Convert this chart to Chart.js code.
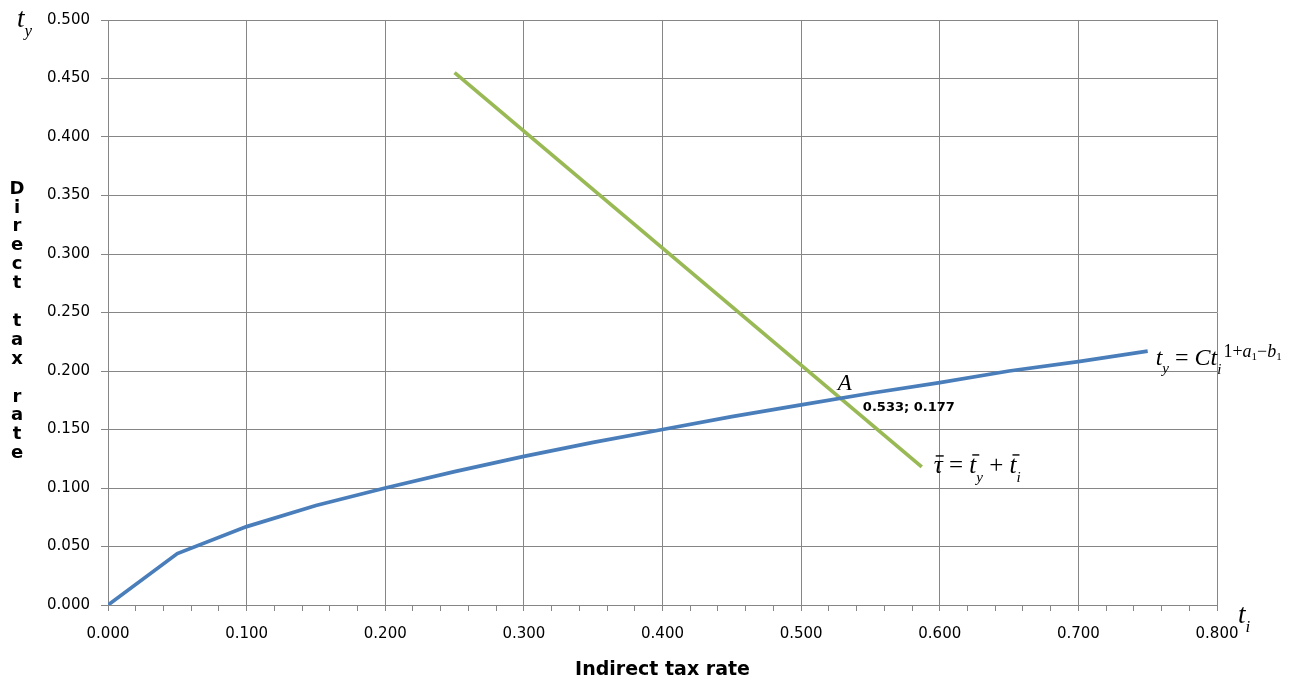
<!DOCTYPE html>
<html>
<head>
<meta charset="utf-8">
<script src="https://cdn.jsdelivr.net/npm/chart.js@4.4.1/dist/chart.umd.min.js"></script>
<style>
html,body{margin:0;padding:0;background:#fff;}
#wrap{width:1295px;height:682px;position:relative;}
</style>
</head>
<body>
<div id="wrap"><canvas id="c" width="1295" height="682"></canvas></div>
<script>
// Data
const curveX = [0.00, 0.05, 0.10, 0.15, 0.20, 0.25, 0.30, 0.35, 0.40, 0.45, 0.50, 0.55, 0.60, 0.65, 0.70, 0.75];
const curveY = [0.000, 0.044, 0.067, 0.085, 0.100, 0.114, 0.127, 0.139, 0.150, 0.161, 0.171, 0.181, 0.190, 0.200, 0.208, 0.217];
const budgetX = [0.250, 0.587];
const budgetY = [0.455, 0.118];
const pointA = {x: 0.533, y: 0.177, label: '0.533; 0.177'};
const xTitle = 'Indirect tax rate';
const yTitle = 'Direct tax rate';
const xRange = [0, 0.8];
const yRange = [0, 0.5];

const GRID = '#868686';
const BLUE = '#4a7ebb';
const GREEN = '#98b954';
const SERIF = '"Liberation Serif", "Times New Roman", serif';
const SANS = '"DejaVu Sans", Verdana, sans-serif';

function drawRuns(ctx, x, y, runs) {
  let cx = x;
  runs.forEach(r => {
    ctx.font = r.font;
    const w = ctx.measureText(r.t).width;
    ctx.fillText(r.t, cx, y + (r.dy || 0));
    if (r.bar) {
      ctx.save();
      ctx.strokeStyle = '#000';
      ctx.lineWidth = 1.4;
      ctx.beginPath();
      ctx.moveTo(cx + r.bar[0], y - r.bar[2]);
      ctx.lineTo(cx + r.bar[1], y - r.bar[2]);
      ctx.stroke();
      ctx.restore();
    }
    cx += w + (r.gap || 0);
  });
}

const labelsPlugin = {
  id: 'labels',
  afterDraw(chart) {
    const ctx = chart.ctx;
    const xs = chart.scales.x, ys = chart.scales.y, ca = chart.chartArea;
    ctx.save();
    ctx.fillStyle = '#000';
    // vertical stacked y title
    ctx.font = 'bold 18px ' + SANS;
    ctx.textAlign = 'center';
    ctx.textBaseline = 'middle';
    yTitle.split('').forEach((ch, i) => {
      if (ch !== ' ') ctx.fillText(ch, 17, 189 + i * 18.9);
    });
    ctx.textAlign = 'left';
    ctx.textBaseline = 'alphabetic';
    const it = (s) => 'italic ' + s + 'px ' + SERIF;
    const rg = (s) => s + 'px ' + SERIF;
    // axis symbols
    drawRuns(ctx, ca.left - 91, ca.top + 7, [{t: 't', font: it(27)}, {t: 'y', font: it(17), dy: 9}]);
    drawRuns(ctx, ca.right + 21, ca.bottom + 18, [{t: 't', font: it(27)}, {t: 'i', font: it(17), dy: 9}]);
    // point A
    const px = xs.getPixelForValue(pointA.x), py = ys.getPixelForValue(pointA.y);
    drawRuns(ctx, px - 9, py - 8, [{t: 'A', font: it(23)}]);
    ctx.font = 'bold 13px ' + SANS;
    ctx.textBaseline = 'middle';
    ctx.fillText(pointA.label, px + 16, py + 10);
    ctx.textBaseline = 'alphabetic';
    // budget line label
    const gx = xs.getPixelForValue(budgetX[budgetX.length - 1]);
    const gy = ys.getPixelForValue(budgetY[budgetY.length - 1]);
    drawRuns(ctx, gx + 12, gy + 6, [
      {t: 'τ', font: it(25), bar: [2, 10, 17]}, {t: ' = ', font: rg(25)},
      {t: 't', font: it(25), bar: [3, 10, 18]}, {t: 'y', font: it(15), dy: 9},
      {t: ' + ', font: rg(25)},
      {t: 't', font: it(25), bar: [3, 10, 18]}, {t: 'i', font: it(15), dy: 9}
    ]);
    // curve label
    const bx = xs.getPixelForValue(curveX[curveX.length - 1]);
    const by = ys.getPixelForValue(curveY[curveY.length - 1]);
    drawRuns(ctx, bx + 8, by + 14, [
      {t: 't', font: it(24)}, {t: 'y', font: it(15), dy: 8},
      {t: ' = ', font: rg(24)},
      {t: 'C', font: it(24)}, {t: 't', font: it(24)}, {t: 'i', font: it(15), dy: 9, gap: 2},
      {t: '1+', font: rg(18), dy: -8},
      {t: 'a', font: it(18), dy: -8}, {t: '1', font: rg(11), dy: -5},
      {t: '−', font: rg(18), dy: -8},
      {t: 'b', font: it(18), dy: -8}, {t: '1', font: rg(11), dy: -5}
    ]);
    ctx.restore();
  }
};

const isMajor = (v, step) => Math.abs(v / step - Math.round(v / step)) < 1e-6;

new Chart(document.getElementById('c'), {
  type: 'scatter',
  data: {
    datasets: [
      {
        data: curveX.map((x, i) => ({x, y: curveY[i]})),
        showLine: true, borderColor: BLUE, borderWidth: 3.7, pointRadius: 0, tension: 0, fill: false
      },
      {
        data: budgetX.map((x, i) => ({x, y: budgetY[i]})),
        showLine: true, borderColor: GREEN, borderWidth: 3.7, pointRadius: 0, tension: 0, fill: false
      }
    ]
  },
  options: {
    responsive: false,
    animation: false,
    events: [],
    layout: {padding: {left: 0, right: 78, top: 20, bottom: 0}},
    plugins: {legend: {display: false}, tooltip: {enabled: false}},
    scales: {
      x: {
        type: 'linear', min: xRange[0], max: xRange[1],
        afterFit: (s) => { s.height = 77; },
        afterBuildTicks: (s) => {
          const t = [];
          for (let k = 0; k <= 40; k++) t.push({value: +(k * 0.02).toFixed(2)});
          s.ticks = t;
        },
        ticks: {
          autoSkip: false, maxRotation: 0, padding: 14, color: '#000',
          font: {family: SANS, size: 15},
          callback: (v) => isMajor(v, 0.1) ? v.toFixed(3) : ''
        },
        grid: {
          color: (c) => isMajor(c.tick.value, 0.1) ? GRID : 'rgba(0,0,0,0)',
          tickColor: GRID, tickLength: 6, lineWidth: 1
        },
        border: {color: GRID, width: 1},
        title: {
          display: true, text: xTitle, color: '#000',
          font: {family: SANS, size: 19, weight: 'bold'},
          padding: {top: 0, bottom: 1}
        }
      },
      y: {
        type: 'linear', min: yRange[0], max: yRange[1],
        afterFit: (s) => { s.width = 108; },
        ticks: {
          stepSize: 0.05, padding: 11, color: '#000',
          font: {family: SANS, size: 15},
          callback: (v) => v.toFixed(3)
        },
        grid: {color: GRID, tickColor: GRID, tickLength: 7, lineWidth: 1},
        border: {color: GRID, width: 1}
      }
    }
  },
  plugins: [labelsPlugin]
});
</script>
</body>
</html>
